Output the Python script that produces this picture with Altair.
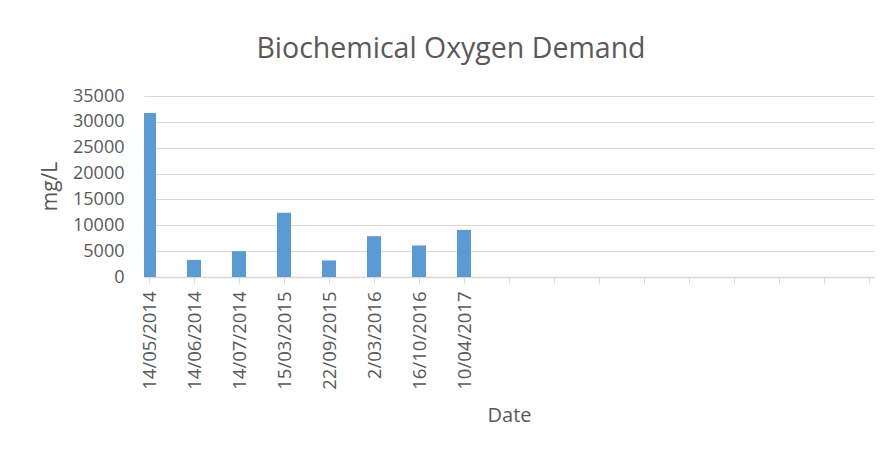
import json
import altair as alt
import pandas as pd

dates = ["14/05/2014", "14/06/2014", "14/07/2014", "15/03/2015",
         "22/09/2015", "2/03/2016", "16/10/2016", "10/04/2017"]
bod = [31700, 3300, 5000, 12400, 3200, 7900, 6100, 9100]
n_slots = 17  # category slots on the axis (last ones empty)

df = pd.DataFrame({"idx": list(range(len(dates))), "date": dates, "bod": bod})

label_expr = "datum.value < %d ? %s[datum.value] : ''" % (len(dates), json.dumps(dates))

font = "Open Sans"
grey = "#595959"

chart = alt.Chart(df).mark_bar(size=14, color="#5b9bd5", clip=True).encode(
    x=alt.X("idx:Q",
            scale=alt.Scale(domain=[0, n_slots - 1], nice=False, zero=False),
            axis=alt.Axis(title="Date", values=list(range(n_slots)), labelExpr=label_expr,
                          labelAngle=-90, labelFont=font, labelFontSize=18.5, labelColor=grey,
                          labelPadding=8, tickSize=6, tickColor="#d9d9d9", domainColor="#d9d9d9",
                          domainWidth=1.5, grid=False, titleFont=font, titleFontSize=20,
                          titleFontWeight="normal", titleColor=grey, titleY=138,
                          titleBaseline="middle", labelFlush=False, labelOverlap=False)),
    y=alt.Y("bod:Q",
            scale=alt.Scale(domain=[0, 35000], nice=False),
            axis=alt.Axis(title="mg/L", values=list(range(0, 35001, 5000)), format="d",
                          labelFont=font, labelFontSize=18, labelColor=grey, labelPadding=20,
                          ticks=False, domain=False, gridColor="#d9d9d9", gridWidth=1.2,
                          titleFont=font, titleFontSize=21, titleFontWeight="normal",
                          titleColor=grey, titleX=-94, titleY=90, titleAngle=-90,
                          titleAlign="center", titleBaseline="middle")),
).properties(
    width=730,
    height=181,
    title=alt.TitleParams("Biochemical Oxygen Demand", font=font, fontSize=28.5,
                          fontWeight="normal", color=grey, anchor="middle", dx=-58,
                          offset=24),
    autosize=alt.AutoSizeParams(type="none"),
    padding={"left": 136, "top": 88, "right": 14, "bottom": 150},
).configure_view(stroke=None)

chart.save("out.html", embed_options={"renderer": "svg", "actions": False})
